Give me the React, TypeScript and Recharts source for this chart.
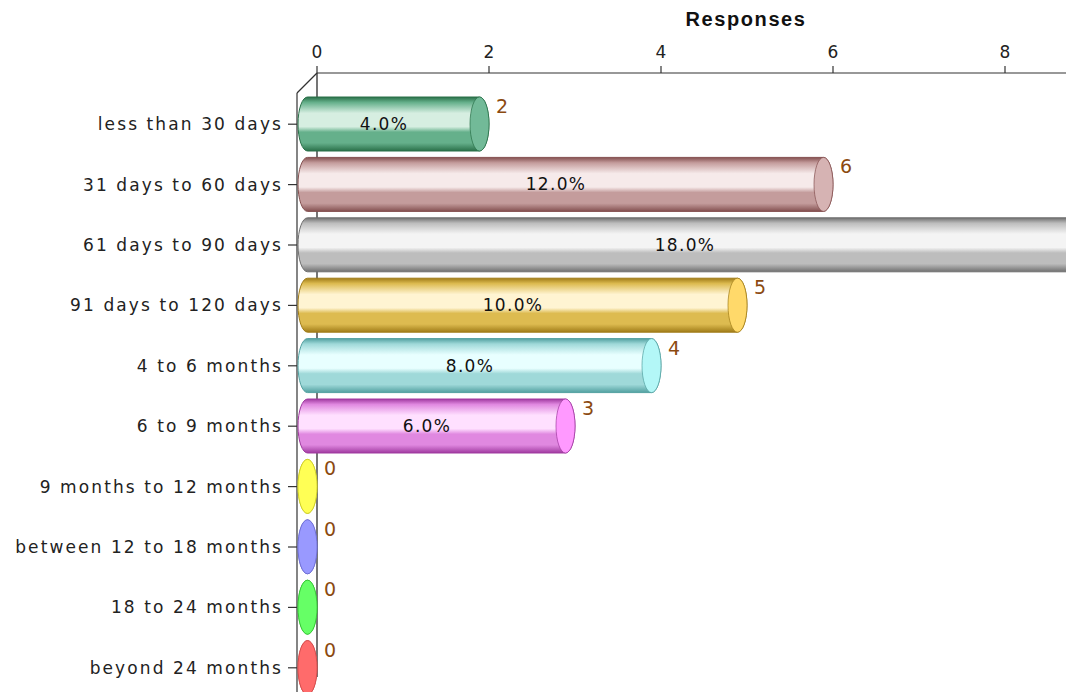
import React from "react";
import {
  BarChart,
  Bar,
  XAxis,
  YAxis,
  CartesianGrid,
  LabelList,
  Customized,
} from "recharts";

const categories = [
  "less than 30 days",
  "31 days to 60 days",
  "61 days to 90 days",
  "91 days to 120 days",
  "4 to 6 months",
  "6 to 9 months",
  "9 months to 12 months",
  "between 12 to 18 months",
  "18 to 24 months",
  "beyond 24 months",
];
const responses = [2, 6, 9, 5, 4, 3, 0, 0, 0, 0];
const percents = [4.0, 12.0, 18.0, 10.0, 8.0, 6.0, 0, 0, 0, 0];
const xTicks = [0, 2, 4, 6, 8];

// cylinder colours: edge, mid, highlight, end cap
const barDark = ["#2a7049", "#845050", "#707070", "#a07c18", "#52a0a0", "#a03aa0", "#c8c820", "#6a6ad0", "#30c030", "#d04848"];
const barMid = ["#65b08b", "#c49c9c", "#bdbdbd", "#ddbb50", "#9fd9d9", "#e088e0", "#ffff55", "#9999ff", "#66ff66", "#ff6b6b"];
const barLight = ["#d6eee1", "#f6eaea", "#f4f4f4", "#fff4d2", "#e8ffff", "#ffe0ff", "#ffffaa", "#ccccff", "#bbffbb", "#ffbbbb"];
const barCap = ["#72ba98", "#d6b3b3", "#cacaca", "#ffd96a", "#b3f7f7", "#ff99ff", "#ffff55", "#9999ff", "#66ff66", "#ff6b6b"];

const data = categories.map((name, i) => ({
  name,
  value: responses[i],
  pct: percents[i],
}));

const FONT = "'DejaVu Sans', Verdana, sans-serif";
const DEPTH_X = 20;
const DEPTH_Y = 21;
const PLOT_LEFT = 317;
const PLOT_TOP = 73;

const Cylinder = (props: any) => {
  const { x, y, width, height, index } = props;
  const i = index ?? categories.indexOf(props.payload?.name);
  const rx = 9.5;
  const ry = height / 2;
  const top = y + DEPTH_Y;
  const bottom = top + height;
  const cl = x - DEPTH_X + 1 + rx;
  const cr = x + width - rx;
  const id = `cyl${i}`;
  return (
    <g>
      <defs>
        <linearGradient id={id} x1="0" y1="0" x2="0" y2="1">
          <stop offset="0" stopColor={barDark[i]} />
          <stop offset="0.1" stopColor={barMid[i]} />
          <stop offset="0.3" stopColor={barLight[i]} />
          <stop offset="0.55" stopColor={barLight[i]} />
          <stop offset="0.65" stopColor={barMid[i]} />
          <stop offset="0.85" stopColor={barMid[i]} />
          <stop offset="1" stopColor={barDark[i]} />
        </linearGradient>
      </defs>
      <path
        d={`M${cl},${top} L${cr},${top} A${rx},${ry} 0 0 1 ${cr},${bottom} L${cl},${bottom} A${rx},${ry} 0 0 1 ${cl},${top} Z`}
        fill={`url(#${id})`}
        stroke={barDark[i]}
        strokeWidth={1}
      />
      <ellipse cx={cr} cy={top + ry} rx={rx} ry={ry} fill={barCap[i]} stroke={barDark[i]} strokeOpacity={0.7} strokeWidth={1} />
    </g>
  );
};

const CategoryTick = (props: any) => {
  const { x, y, payload } = props;
  const fx = x - DEPTH_X;
  const fy = y + DEPTH_Y;
  return (
    <g>
      <line x1={fx - 9} y1={fy} x2={fx} y2={fy} stroke="#333" strokeWidth={1.2} />
      <text
        x={fx - 14}
        y={fy + 6}
        textAnchor="end"
        fontFamily={FONT}
        fontSize={17}
        letterSpacing={2.1}
        fill="#222"
      >
        {payload.value}
      </text>
    </g>
  );
};

const ValueLabel = (props: any) => {
  const { x, y, width, value } = props;
  return (
    <text
      x={x + width + 7}
      y={y + DEPTH_Y + 16}
      fontFamily={FONT}
      fontSize={19}
      fill="#8b4a10"
    >
      {value}
    </text>
  );
};

const PctLabel = (props: any) => {
  const { x, y, width, height, value } = props;
  if (!value) return null;
  return (
    <text
      x={x + width / 2 - DEPTH_X + 1}
      y={y + DEPTH_Y + height / 2 + 6}
      textAnchor="middle"
      fontFamily={FONT}
      fontSize={17}
      letterSpacing={1.3}
      fill="#111"
    >
      {value.toFixed(1)}%
    </text>
  );
};

const Frame = () => (
  <g>
    <line x1={PLOT_LEFT} y1={PLOT_TOP} x2={PLOT_LEFT - DEPTH_X} y2={PLOT_TOP + DEPTH_X} stroke="#333" strokeWidth={1.2} />
    <line x1={PLOT_LEFT - DEPTH_X} y1={PLOT_TOP + DEPTH_X} x2={PLOT_LEFT - DEPTH_X} y2={730} stroke="#333" strokeWidth={1.2} />
    <text
      x={746}
      y={26}
      textAnchor="middle"
      fontFamily="'Liberation Sans', Arial, sans-serif"
      fontWeight="bold"
      fontSize={20}
      letterSpacing={1.6}
      fill="#111"
    >
      Responses
    </text>
  </g>
);

export default function App() {
  return (
    <div
      style={{
        position: "absolute",
        left: 0,
        top: 0,
        width: 1066,
        height: 692,
        overflow: "hidden",
        background: "#fff",
      }}
    >
      <BarChart
        width={1197}
        height={720}
        data={data}
        layout="vertical"
        margin={{ top: 0, right: 20, bottom: 43, left: 0 }}
      >
        <CartesianGrid horizontal={false} stroke="#cccccc" strokeWidth={1.5} />
        {/* back wall edge, drawn as a grid line so the cylinders cover it */}
        <CartesianGrid
          horizontal={false}
          verticalCoordinatesGenerator={({ offset }: any) => [offset.left]}
          stroke="#333"
          strokeWidth={1.2}
        />
        <XAxis
          xAxisId="top"
          type="number"
          orientation="top"
          domain={[0, 10]}
          ticks={xTicks}
          height={73}
          tickSize={7}
          tickMargin={8}
          axisLine={{ stroke: "#333", strokeWidth: 1.2 }}
          tickLine={{ stroke: "#333", strokeWidth: 1.2 }}
          tick={{ fontFamily: FONT, fontSize: 17, fill: "#222" }}
        />
        <XAxis
          xAxisId="bottom"
          type="number"
          orientation="bottom"
          domain={[0, 10]}
          height={0}
          tick={false}
          tickLine={false}
          axisLine={{ stroke: "#333", strokeWidth: 1.2 }}
        />
        <YAxis
          type="category"
          dataKey="name"
          width={317}
          tickSize={0}
          tickMargin={0}
          tickLine={false}
          axisLine={false}
          tick={<CategoryTick />}
          interval={0}
        />
        <Bar
          xAxisId="top"
          dataKey="value"
          barSize={54}
          shape={<Cylinder />}
          isAnimationActive={false}
        >
          <LabelList dataKey="value" content={<ValueLabel />} />
          <LabelList dataKey="pct" content={<PctLabel />} />
        </Bar>
        <Customized component={<Frame />} />
      </BarChart>
    </div>
  );
}
